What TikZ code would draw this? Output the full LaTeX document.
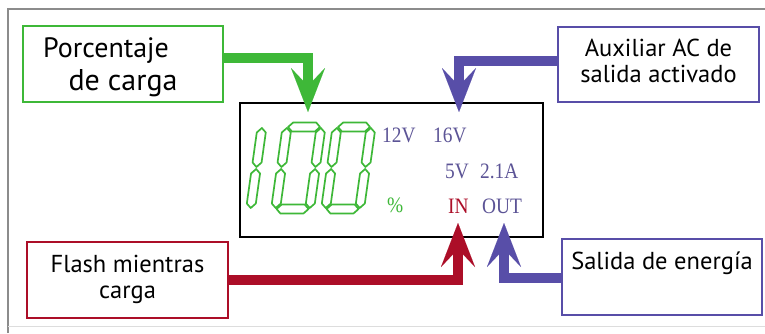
\documentclass[tikz,border=0pt]{standalone}
\usepackage{fontspec}
\setmainfont{PT Sans}
\newfontfamily\lcdfont[FakeStretch=0.88]{Liberation Serif}
\usetikzlibrary{arrows.meta}
\definecolor{gr}{RGB}{62,184,56}
\definecolor{pu}{RGB}{88,78,168}
\definecolor{lpu}{RGB}{92,84,150}
\definecolor{rd}{RGB}{172,14,40}
\definecolor{frm}{RGB}{140,140,140}
\newcommand\vseg[3]{\draw[segsty] (#1,#2) -- (#1+4.5,#2+4.5) -- (#1+4.5,#3-4.5) -- (#1,#3) -- (#1-4.5,#3-4.5) -- (#1-4.5,#2+4.5) -- cycle;}
\newcommand\hseg[3]{\draw[segsty] (#1,#3) -- (#1+4.5,#3+4.5) -- (#2-4.5,#3+4.5) -- (#2,#3) -- (#2-4.5,#3-4.5) -- (#1+4.5,#3-4.5) -- cycle;}
\newcommand\digzero{\vseg{4}{5}{44}\vseg{4}{46}{85}\vseg{38}{5}{44}\vseg{38}{46}{85}\hseg{5}{37}{4}\hseg{5}{37}{86}}
\newcommand\digone{\vseg{4}{5}{44}\vseg{4}{46}{85}}
\newcommand\twoline[2]{\begin{tabular}{@{}c@{}}#1\\#2\end{tabular}}
\begin{document}
\begin{tikzpicture}[x=1pt,y=-1pt,
  boxsty/.style={draw, line width=2pt, fill=white, minimum width=200pt, minimum height=76pt, inner sep=0pt},
  bigtxt/.style={font=\fontsize{28}{33}\selectfont, anchor=base, inner sep=0pt},
  midtxt/.style={font=\fontsize{24.5}{26}\selectfont},
  lcdtxt/.style={font=\lcdfont\fontsize{22}{24}\selectfont, anchor=base west, inner sep=0pt},
  segsty/.style={draw=gr, line width=1.7pt, line join=round},
  arrw/.style={line width=10pt, line join=miter, -{Stealth[length=44pt 0 0,width=34pt 0 0,inset=18pt 0 0,line width=0.01pt]}}]
\useasboundingbox (0,0) rectangle (765,333);
\fill[white] (0,0) rectangle (765,333);
% outer frame
\draw[frm, line width=1.5pt] (8,333) -- (8,9) -- (765,9);
\draw[frm!30, line width=1pt] (8,326) -- (765,326);
% boxes
\node[boxsty, draw=gr] (pc) at (123,64) {};
\node[bigtxt] (pcA) at (106,57) {Porcentaje};
\node[bigtxt, font=\fontsize{30}{33}\selectfont] (pcB) at (123,90) {de carga};
\node[boxsty, draw=pu, midtxt, minimum width=201pt, minimum height=75pt] (aux) at (658.5,64.5) {\twoline{Auxiliar AC de}{salida activado}};
\node[boxsty, draw=rd, midtxt, minimum width=201pt] (fl) at (127.5,280) {\twoline{Flash mientras}{carga}};
\node[boxsty, draw=pu, midtxt] (sal) at (662,277) {\twoline{Salida de energía}{\mbox{}}};
% LCD
\node[draw=black, line width=2pt, minimum width=303pt, minimum height=134pt, inner sep=0pt] (lcd) at (391.5,170) {};
% digits
\begin{scope}[shift={(246,213)}, x=1pt, y=1pt, xslant=0.14]\digone\end{scope}
\begin{scope}[shift={(271,213)}, x=1pt, y=1pt, xslant=0.14]\digzero\end{scope}
\begin{scope}[shift={(321,213)}, x=1pt, y=1pt, xslant=0.14]\digzero\end{scope}
% LCD texts
\node[lcdtxt, text=lpu] (v12) at (382,142) {12V};
\node[lcdtxt, text=lpu] (v16) at (433,142) {16V};
\node[lcdtxt, text=lpu] (v5) at (445,178) {5V};
\node[lcdtxt, text=lpu] (a21) at (480,178) {2.1A};
\node[lcdtxt, text=gr] (pct) at (387,212) {\%};
\node[lcdtxt, text=rd] (in) at (448,213) {IN};
\node[lcdtxt, text=lpu] (out) at (482,213) {OUT};
% arrow coordinates
\coordinate (gc) at (308,58);
\coordinate (gt) at (308,112);
\coordinate (pc1) at (459,61);
\coordinate (pt1) at (459,112);
\coordinate (rc) at (458,280);
\coordinate (rt) at (458,223);
\coordinate (sc) at (504,278);
\coordinate (st) at (504,223);
% arrows
\draw[arrw, draw=gr] (pc.east |- gc) -- (gc) -- (gt);
\draw[arrw, draw=pu] (aux.west |- pc1) -- (pc1) -- (pt1);
\draw[arrw, draw=rd] (fl.east |- rc) -- (rc) -- (rt);
\draw[arrw, draw=pu] (sal.west |- sc) -- (sc) -- (st);
\end{tikzpicture}
\end{document}
